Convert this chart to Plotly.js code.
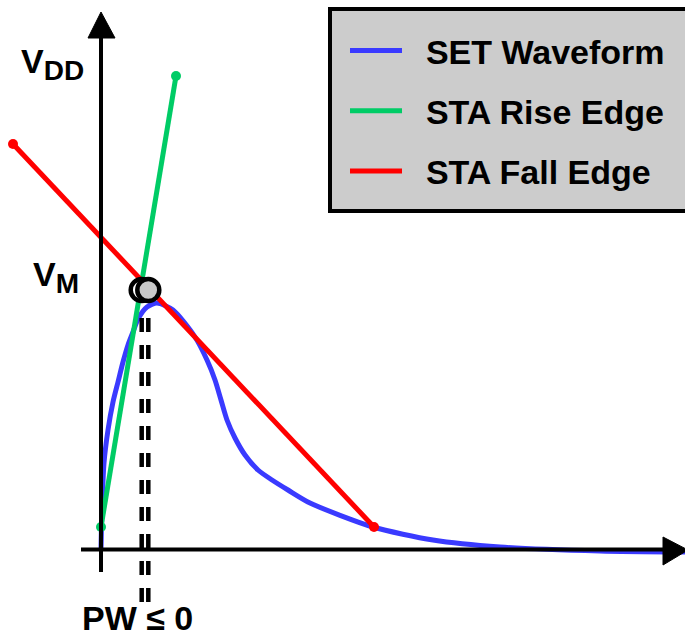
<!DOCTYPE html>
<html>
<head>
<meta charset="utf-8">
<script src="https://cdn.plot.ly/plotly-3.0.1.min.js"></script>
<style>html,body{margin:0;padding:0;background:#fff;}#chart{width:685px;height:639px;}</style>
</head>
<body>
<div id="chart"></div>
<script>
// Time (arbitrary units) and voltage (arbitrary units)
const setTime    = [0.00, 0.01, 0.03, 0.07, 0.12, 0.17, 0.22, 0.27, 0.32, 0.37, 0.46, 0.56, 0.72, 0.94, 1.06, 1.14, 1.20, 1.26, 1.34, 1.44, 1.57, 1.71, 1.87, 2.09, 2.72, 3.32, 3.99, 4.99, 5.84];
const setVoltage = [0.00, 0.43, 0.87, 1.20, 1.48, 1.68, 1.88, 2.05, 2.18, 2.31, 2.43, 2.47, 2.40, 2.13, 1.90, 1.70, 1.50, 1.30, 1.12, 0.95, 0.80, 0.70, 0.60, 0.47, 0.23, 0.10, 0.03, -0.01, -0.02];

const riseTime    = [0.00, 0.75];
const riseVoltage = [0.23, 4.74];

const fallTime    = [-0.88, 2.73];
const fallVoltage = [4.06, 0.23];

// the two crossing markers (predicted edges) and pulse-width guides
const crossTime    = [0.407, 0.473];
const crossVoltage = [2.60, 2.60];
const crossFill    = ['#ffffff', '#c8c8c8'];
const guideTop     = 2.32;
const guideBottom  = -0.52;

const seriesNames = ['SET Waveform', 'STA Rise Edge', 'STA Fall Edge'];
const seriesColors = ['#3a3aff', '#00cc66', '#ff0000'];

const FONT = 'Liberation Sans, Arial, Helvetica, sans-serif';
const PAD = '\u00a0\u00a0';

const traces = [
  {x: setTime, y: setVoltage, mode: 'lines', name: PAD + seriesNames[0],
   line: {color: seriesColors[0], width: 5, shape: 'spline', smoothing: 0.7},
   legendgroup: 'a', hoverinfo: 'skip'},
  {x: riseTime, y: riseVoltage, mode: 'lines', name: PAD + seriesNames[1],
   line: {color: seriesColors[1], width: 5}, legendgroup: 'b', hoverinfo: 'skip'},
  {x: riseTime, y: riseVoltage, mode: 'markers', showlegend: false,
   marker: {color: seriesColors[1], size: 10}, hoverinfo: 'skip'},
  {x: fallTime, y: fallVoltage, mode: 'lines', name: PAD + seriesNames[2],
   line: {color: seriesColors[2], width: 5}, legendgroup: 'c', hoverinfo: 'skip'},
  {x: fallTime, y: fallVoltage, mode: 'markers', showlegend: false,
   marker: {color: seriesColors[2], size: 10}, hoverinfo: 'skip'}
];
crossTime.forEach(function (t) {
  traces.push({x: [t, t], y: [guideTop, guideBottom], mode: 'lines', showlegend: false,
    line: {color: '#000', width: 4.5, dash: '14px,13px'}, hoverinfo: 'skip'});
});
traces.push({x: crossTime, y: crossVoltage, mode: 'markers', showlegend: false,
  marker: {size: 22, color: crossFill, line: {color: '#000', width: 4.5}}, hoverinfo: 'skip'});

const layout = {
  width: 685, height: 639,
  margin: {l: 0, r: 0, t: 0, b: 0},
  paper_bgcolor: '#fff', plot_bgcolor: '#fff',
  font: {family: FONT, color: '#000'},
  xaxis: {range: [-1.01, 5.84], visible: false, fixedrange: true},
  yaxis: {range: [-0.89, 5.50], visible: false, fixedrange: true},
  showlegend: true,
  legend: {
    x: 345 / 685, y: 1 - 22 / 639, xanchor: 'left', yanchor: 'top',
    bgcolor: 'rgba(0,0,0,0)', borderwidth: 0,
    font: {family: FONT, size: 34, weight: 'bold', color: '#000'},
    itemwidth: 52, tracegroupgap: 13, traceorder: 'grouped'
  },
  shapes: [
    // legend box
    {type: 'rect', xref: 'paper', yref: 'paper', x0: 330 / 685, x1: 1.02, y0: 1 - 211 / 639, y1: 1 - 9 / 639,
     fillcolor: '#cccccc', line: {color: '#000', width: 4}, layer: 'below'},
    // vertical axis
    {type: 'line', x0: 0, x1: 0, y0: -0.22, y1: 5.14, line: {color: '#000', width: 4}, layer: 'above'},
    {type: 'path', path: 'M -0.13 5.12 L 0 5.38 L 0.14 5.12 Z', fillcolor: '#000', line: {color: '#000', width: 1}, layer: 'above'},
    // horizontal axis
    {type: 'line', x0: -0.20, x1: 5.64, y0: 0.005, y1: 0.005, line: {color: '#000', width: 4}, layer: 'above'},
    {type: 'path', path: 'M 5.62 0.13 L 5.87 0 L 5.62 -0.15 Z', fillcolor: '#000', line: {color: '#000', width: 1}, layer: 'above'}
  ],
  annotations: [
    {text: '<b>V<sub><span style="font-size:28px">DD</span></sub></b>', x: -0.82, y: 4.86, xanchor: 'left', yanchor: 'middle', showarrow: false,
     font: {family: FONT, size: 34, color: '#000'}},
    {text: '<b>V<sub><span style="font-size:28px">M</span></sub></b>', x: -0.70, y: 2.73, xanchor: 'left', yanchor: 'middle', showarrow: false,
     font: {family: FONT, size: 34, color: '#000'}},
    {text: '<b>PW ≤ 0</b>', x: 0.36, y: -0.68, xanchor: 'center', yanchor: 'middle', showarrow: false,
     font: {family: FONT, size: 34, color: '#000'}}
  ]
};

Plotly.newPlot('chart', traces, layout, {displayModeBar: false, staticPlot: true});
</script>
</body>
</html>
